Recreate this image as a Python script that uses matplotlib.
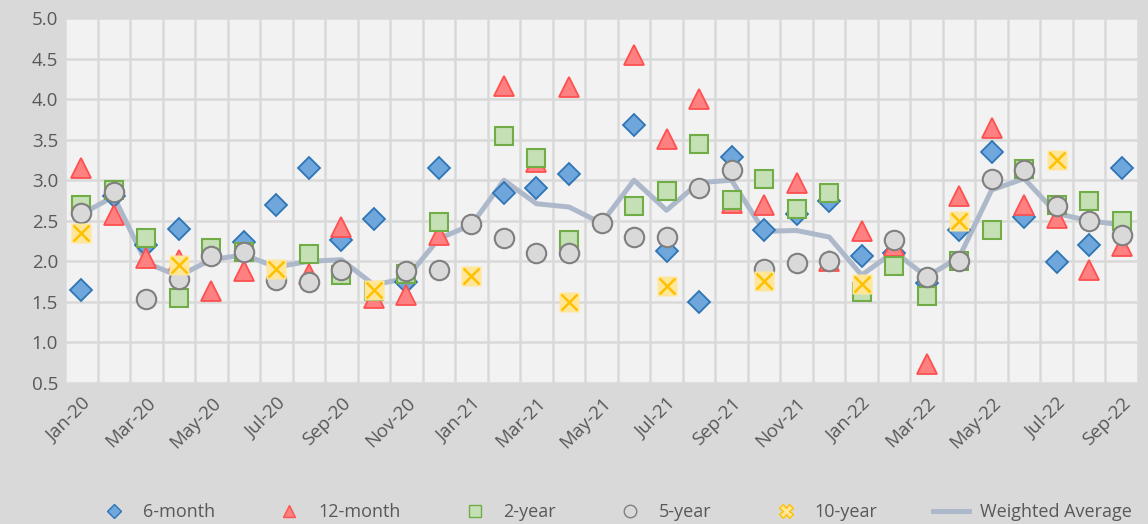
import numpy as np
import matplotlib
matplotlib.use("Agg")
import matplotlib.pyplot as plt
from matplotlib.lines import Line2D

plt.rcParams['font.family'] = ['Open Sans', 'DejaVu Sans']

months = ["Jan-20", "Feb-20", "Mar-20", "Apr-20", "May-20", "Jun-20", "Jul-20", "Aug-20",
          "Sep-20", "Oct-20", "Nov-20", "Dec-20", "Jan-21", "Feb-21", "Mar-21", "Apr-21",
          "May-21", "Jun-21", "Jul-21", "Aug-21", "Sep-21", "Oct-21", "Nov-21", "Dec-21",
          "Jan-22", "Feb-22", "Mar-22", "Apr-22", "May-22", "Jun-22", "Jul-22", "Aug-22",
          "Sep-22"]
nan = np.nan
six_month = [1.65, 2.80, 2.20, 2.40, nan, 2.24, 2.69, 3.15, 2.26, 2.52, 1.75, 3.15,
             nan, 2.84, 2.90, 3.08, nan, 3.68, 2.13, 1.50, 3.29, 2.39, 2.58, 2.74,
             2.06, 2.10, 1.73, 2.39, 3.35, 2.55, 1.99, 2.20, 3.15]
twelve_month = [3.15, 2.57, 2.04, 2.02, 1.64, 1.88, nan, 1.85, 2.42, 1.55, 1.59, 2.32,
                nan, 4.16, 3.22, 4.15, nan, 4.55, 3.51, 4.00, 2.72, 2.69, 2.97, 2.00,
                2.37, 2.19, 0.74, 2.80, 3.65, 2.69, 2.53, 1.89, 2.19]
two_year = [2.69, 2.88, 2.29, 1.55, 2.16, 2.12, nan, 2.09, 1.83, 1.64, 1.84, 2.49,
            nan, 3.55, 3.27, 2.26, nan, 2.68, 2.87, 3.45, 2.76, 3.01, 2.65, 2.84,
            1.62, 1.94, 1.57, 2.00, 2.39, 3.14, 2.69, 2.75, 2.50]
five_year = [2.59, 2.85, 1.54, 1.78, 2.06, 2.11, 1.77, 1.74, 1.89, nan, 1.88, 1.89,
             2.46, 2.29, 2.10, 2.10, 2.47, 2.30, 2.30, 2.91, 3.13, 1.91, 1.98, 2.01,
             nan, 2.26, 1.81, 2.01, 3.02, 3.12, 2.68, 2.50, 2.33]
ten_year = [2.35, nan, nan, 1.95, nan, nan, 1.90, nan, nan, 1.65, nan, nan,
            1.82, nan, nan, 1.50, nan, nan, 1.70, nan, nan, 1.76, nan, nan,
            1.72, nan, nan, 2.50, nan, nan, 3.25, nan, nan]
weighted_avg = [2.58, 2.80, 1.98, 1.82, 2.02, 2.08, 1.93, 2.00, 2.02, 1.71, 1.79, 2.28,
                2.45, 3.00, 2.71, 2.67, 2.47, 3.00, 2.63, 2.97, 3.00, 2.37, 2.38, 2.30,
                1.83, 2.12, 1.81, 2.05, 2.88, 3.02, 2.59, 2.50, 2.45]

x = np.arange(len(months))

fig = plt.figure(figsize=(11.48, 5.24), dpi=100, facecolor='#d9d9d9')
ax = fig.add_axes([65/1148, 1-383/524, (1138-65)/1148, (383-18)/524])
ax.set_facecolor('#f2f2f2')

ax.plot(x, weighted_avg, color='#adb9ca', lw=3.6, zorder=2, solid_capstyle='round')
ax.plot(x, six_month, ls='none', marker='D', ms=11, mfc='#6fa6dc', mec='#2e75b6', mew=1.3, zorder=3)
ax.plot(x, twelve_month, ls='none', marker='^', ms=14, mfc='#ff8080', mec='#ff5050', mew=1.3, zorder=4)
ax.plot(x, two_year, ls='none', marker='s', ms=13, mfc='#c5e0b4', mec='#70ad47', mew=1.5, zorder=5)
ax.plot(x, five_year, ls='none', marker='o', ms=14, mfc='#d9d9d9', mec='#7f7f7f', mew=1.5, zorder=6)
ax.plot(x, ten_year, ls='none', marker='s', ms=14, mfc='#ffe699', mec='none', zorder=7)
ax.plot(x, ten_year, ls='none', marker='x', ms=12, mec='#ffc000', mew=1.8, zorder=8)

ax.set_xlim(-0.5, len(months) - 0.5)
ax.set_ylim(0.5, 5.0)
ax.set_yticks(np.arange(0.5, 5.01, 0.5))
ax.set_yticklabels([f"{v:.1f}" for v in np.arange(0.5, 5.01, 0.5)])
ax.set_xticks(x[::2])
ax.set_xticklabels(months[::2], rotation=45, ha='right', rotation_mode='anchor')
ax.set_xticks(np.arange(-0.5, len(months), 1), minor=True)
ax.grid(False)
ax.grid(True, which='minor', axis='x', color='#d9d9d9', lw=1.8)
ax.grid(True, which='major', axis='y', color='#d9d9d9', lw=1.8)
ax.set_axisbelow(True)
for s in ax.spines.values():
    s.set_visible(False)
ax.tick_params(axis='both', which='both', length=0, labelsize=13.5, colors='#595959')
ax.tick_params(axis='x', pad=8)
ax.tick_params(axis='y', pad=5)

handles = [
    Line2D([], [], ls='none', marker='D', ms=7, mfc='#6fa6dc', mec='#2e75b6'),
    Line2D([], [], ls='none', marker='^', ms=9, mfc='#ff8080', mec='#ff5050'),
    Line2D([], [], ls='none', marker='s', ms=9, mfc='#c5e0b4', mec='#70ad47'),
    Line2D([], [], ls='none', marker='o', ms=9, mfc='#d9d9d9', mec='#7f7f7f'),
    Line2D([], [], ls='none', marker='X', ms=10, mfc='#ffe699', mec='#ffc000'),
    Line2D([], [], color='#adb9ca', lw=3.6),
]
labels = ["6-month", "12-month", "2-year", "5-year", "10-year", "Weighted Average"]
leg = fig.legend(handles, labels, loc='lower center', bbox_to_anchor=(0.535, -0.025), ncol=6,
                 frameon=False, fontsize=13, columnspacing=3.1, handlelength=2.0,
                 handletextpad=0.6)
for t in leg.get_texts():
    t.set_color('#595959')

fig.savefig('out.png', dpi=100, facecolor=fig.get_facecolor())
